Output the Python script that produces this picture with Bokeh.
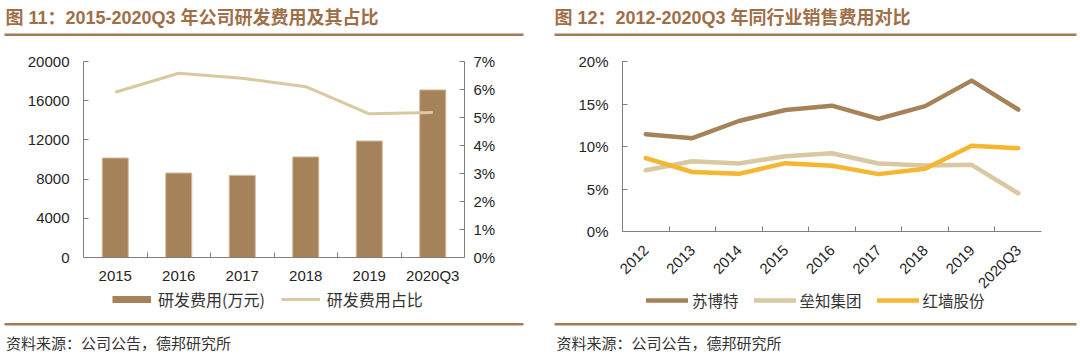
import math
from bokeh.plotting import figure
from bokeh.models import (Range1d, LinearAxis, FixedTicker, NumeralTickFormatter,
                          Label, BoxAnnotation, Legend, LegendItem)
from bokeh.layouts import row
from bokeh.embed import file_html
from bokeh.resources import INLINE

# ---------------- data ----------------
rd_years = ["2015", "2016", "2017", "2018", "2019", "2020Q3"]
rd_expense = [10150, 8620, 8380, 10260, 11890, 17100]          # 万元
rd_ratio = [0.0590, 0.0658, 0.0640, 0.0610, 0.0513, 0.0518]     # 占比
rd_left_ticks = [0, 4000, 8000, 12000, 16000, 20000]
rd_right_ticks = [0.0, 0.01, 0.02, 0.03, 0.04, 0.05, 0.06, 0.07]

sales_years = ["2012", "2013", "2014", "2015", "2016", "2017", "2018", "2019", "2020Q3"]
subote = [0.1145, 0.1098, 0.1300, 0.1430, 0.1480, 0.1325, 0.1475, 0.1775, 0.1435]
leizhi = [0.0720, 0.0827, 0.0800, 0.0886, 0.0920, 0.0800, 0.0776, 0.0784, 0.0450]
hongqiang = [0.0863, 0.0700, 0.0678, 0.0804, 0.0773, 0.0675, 0.0737, 0.1008, 0.0980]
sales_ticks = [0.0, 0.05, 0.10, 0.15, 0.20]

title_left = "图 11：2015-2020Q3 年公司研发费用及其占比"
title_right = "图 12：2012-2020Q3 年同行业销售费用对比"
source_text = "资料来源：公司公告，德邦研究所"

# ---------------- styles ----------------
BROWN = "#a6825a"
BEIGE = "#d9c8a0"
ORANGE = "#f5b630"
TITLE_COLOR = "#9e6f48"
RULE_COLOR = "#a57b55"
TEXT = "#262626"
AXIS = "#7f7f7f"
LATIN = "Liberation Sans"
CJK = "Noto Sans CJK SC"
MIXED = "'Liberation Sans', 'Noto Sans CJK SC'"
W, H = 540, 356
NAN = float("nan")


def ranges_for(n, ymax, L, R, T, B):
    """Ranges so that the plotting box [L,R]x[T,B] (px) maps to [0,n]x[0,ymax]."""
    ux = n / (R - L)
    uy = ymax / (B - T)
    return (Range1d(-L * ux, n + (W - R) * ux),
            Range1d(-(H - B) * uy, ymax + T * uy))


def yrange_for(ymax, T, B):
    uy = ymax / (B - T)
    return Range1d(-(H - B) * uy, ymax + T * uy)


def style_axis(ax):
    ax.axis_line_color = AXIS
    ax.axis_line_width = 1
    ax.major_tick_line_color = AXIS
    ax.minor_tick_line_color = AXIS
    ax.major_label_text_font = LATIN
    ax.major_label_text_font_size = "15px"
    ax.major_label_text_color = TEXT


def base_figure(xr, yr):
    p = figure(width=W, height=H, output_backend="svg", toolbar_location=None,
               x_range=xr, y_range=yr, min_border=0,
               min_border_left=0, min_border_right=0,
               min_border_top=0, min_border_bottom=0)
    p.grid.visible = False
    p.outline_line_color = None
    p.background_fill_color = "white"
    p.border_fill_color = "white"
    return p


def rule(p, x0, x1, ytop):
    p.add_layout(BoxAnnotation(left=x0, right=x1, top=H - ytop, bottom=H - ytop - 2.5,
                               left_units="screen", right_units="screen",
                               top_units="screen", bottom_units="screen",
                               fill_color=RULE_COLOR, fill_alpha=1,
                               line_color=None, level="overlay"))


def decorate(p, title, title_x, rule_x0, rule_x1, src_x):
    p.add_layout(Label(x=title_x, y=H - 17, x_units="screen", y_units="screen",
                       text=title, text_font=MIXED, text_font_size="18px",
                       text_font_style="bold", text_color=TITLE_COLOR,
                       text_baseline="middle", text_align="left"))
    rule(p, rule_x0, rule_x1, 33)
    rule(p, rule_x0, rule_x1, 322.5)
    p.add_layout(Label(x=src_x, y=H - 342, x_units="screen", y_units="screen",
                       text=source_text, text_font=CJK, text_font_size="15px",
                       text_color="#333333",
                       text_baseline="middle", text_align="left"))


# ---------------- left chart ----------------
L1, R1, T1, B1 = 83, 464, 61, 257
n1 = len(rd_years)
x1 = [i + 0.5 for i in range(n1)]
xr1, yr1 = ranges_for(n1, rd_left_ticks[-1], L1, R1, T1, B1)
p1 = base_figure(xr1, yr1)
p1.extra_y_ranges = {"pct": yrange_for(rd_right_ticks[-1], T1, B1)}

bars = p1.vbar(x=x1, top=rd_expense, bottom=0, width=0.41, fill_color=BROWN,
               line_color="#d2bb9c", line_width=1)
ln1 = p1.line(x=x1, y=rd_ratio, y_range_name="pct", line_color=BEIGE, line_width=3)
# legend-only proxy (draws nothing: NaN point) so the bar swatch is a flat band
bar_proxy = p1.line(x=[NAN], y=[NAN], line_color=BROWN, line_width=7)

xa1 = p1.xaxis[0]
xa1.fixed_location = 0
xa1.bounds = (0, n1)
xa1.ticker = FixedTicker(ticks=x1, minor_ticks=list(range(1, n1)))
xa1.major_label_overrides = {x: lab for x, lab in zip(x1, rd_years)}
xa1.major_tick_in = 0
xa1.major_tick_out = 0
xa1.minor_tick_in = 5
xa1.minor_tick_out = 0
xa1.major_label_standoff = 9
style_axis(xa1)

ya1 = p1.yaxis[0]
ya1.fixed_location = 0
ya1.bounds = (0, rd_left_ticks[-1])
ya1.ticker = FixedTicker(ticks=rd_left_ticks, minor_ticks=[])
ya1.major_tick_in = 5
ya1.major_tick_out = 0
ya1.minor_tick_in = 0
ya1.minor_tick_out = 0
ya1.major_label_standoff = 14
style_axis(ya1)

ra1 = LinearAxis(y_range_name="pct", fixed_location=n1,
                 bounds=(0, rd_right_ticks[-1]),
                 ticker=FixedTicker(ticks=rd_right_ticks, minor_ticks=[]),
                 formatter=NumeralTickFormatter(format="0%"))
ra1.major_tick_in = 5
ra1.major_tick_out = 0
ra1.minor_tick_in = 0
ra1.minor_tick_out = 0
ra1.major_label_standoff = 9
style_axis(ra1)
p1.add_layout(ra1, "right")

leg1 = Legend(items=[LegendItem(label="研发费用(万元)", renderers=[bar_proxy]),
                     LegendItem(label="研发费用占比", renderers=[ln1])],
              orientation="horizontal", location=(112, H - 311),
              glyph_width=39, glyph_height=18, label_height=18,
              label_standoff=7, spacing=16, padding=0, margin=0,
              background_fill_alpha=0, border_line_alpha=0,
              label_text_font=CJK, label_text_font_size="16px",
              label_text_color="#333333")
p1.add_layout(leg1)
decorate(p1, title_left, 5, 4, 523, 5.5)

# ---------------- right chart ----------------
L2, R2, T2, B2 = 82, 501, 61, 231
n2 = len(sales_years)
x2 = [i + 0.5 for i in range(n2)]
xr2, yr2 = ranges_for(n2, sales_ticks[-1], L2, R2, T2, B2)
p2 = base_figure(xr2, yr2)

r_sbt = p2.line(x=x2, y=subote, line_color=BROWN, line_width=4.5,
                line_cap="round", line_join="round")
r_lz = p2.line(x=x2, y=leizhi, line_color=BEIGE, line_width=4.5,
               line_cap="round", line_join="round")
r_hq = p2.line(x=x2, y=hongqiang, line_color=ORANGE, line_width=4.5,
               line_cap="round", line_join="round")

xa2 = p2.xaxis[0]
xa2.fixed_location = 0
xa2.bounds = (0, n2)
xa2.ticker = FixedTicker(ticks=x2, minor_ticks=list(range(1, n2)))
xa2.major_label_overrides = {x: lab for x, lab in zip(x2, sales_years)}
xa2.major_label_orientation = math.pi / 4
xa2.major_tick_in = 0
xa2.major_tick_out = 0
xa2.minor_tick_in = 5
xa2.minor_tick_out = 0
xa2.major_label_standoff = 16
style_axis(xa2)

ya2 = p2.yaxis[0]
ya2.fixed_location = 0
ya2.bounds = (0, sales_ticks[-1])
ya2.ticker = FixedTicker(ticks=sales_ticks, minor_ticks=[])
ya2.formatter = NumeralTickFormatter(format="0%")
ya2.major_tick_in = 5
ya2.major_tick_out = 0
ya2.minor_tick_in = 0
ya2.minor_tick_out = 0
ya2.major_label_standoff = 14
style_axis(ya2)

leg2 = Legend(items=[LegendItem(label="苏博特", renderers=[r_sbt]),
                     LegendItem(label="垒知集团", renderers=[r_lz]),
                     LegendItem(label="红墙股份", renderers=[r_hq])],
              orientation="horizontal", location=(106, H - 311),
              glyph_width=42, glyph_height=18, label_height=18,
              label_standoff=4, spacing=15, padding=0, margin=0,
              background_fill_alpha=0, border_line_alpha=0,
              label_text_font=CJK, label_text_font_size="15.5px",
              label_text_color="#333333")
p2.add_layout(leg2)
decorate(p2, title_right, 14, 14, 536, 16)

layout = row(p1, p2, spacing=0)
open("out.html", "w").write(file_html(layout, INLINE))
